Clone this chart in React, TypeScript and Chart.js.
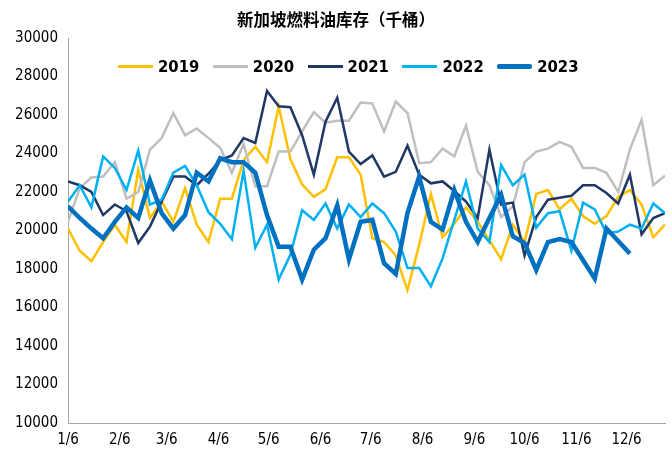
import React, { useEffect, useRef } from "react";
import { Chart, registerables } from "chart.js";

Chart.register(...registerables);

const title = "新加坡燃料油库存（千桶）";
const years = ["2019", "2020", "2021", "2022", "2023"];
const colors = ["#FFC000", "#BFBFBF", "#1F3864", "#00B0F0", "#0070C0"];
const widths = [2.5, 2.5, 2.5, 2.5, 4.5];

const tickLabels = ["1/6", "2/6", "3/6", "4/6", "5/6", "6/6", "7/6", "8/6", "9/6", "10/6", "11/6", "12/6"];
const yTicksMin = 10000;
const yTicksMax = 30000;
const yTicksStep = 2000;

const s2019 = [20100, 18950, 18400, 19400, 20300, 19400, 23150, 20650, 21500, 20450, 22200, 20300, 19400, 21650, 21650, 23650, 24350, 23550, 26450, 23700, 22400, 21750, 22150, 23800, 23800, 22900, 19600, 19400, 18700, 16900, 19250, 21900, 19650, 20350, 21200, 20450, 19500, 18500, 20300, 19400, 21900, 22100, 21100, 21650, 20750, 20350, 20750, 21750, 22100, 21350, 19650, 20300];
const s2020 = [20450, 22200, 22750, 22800, 23550, 21650, 22000, 24200, 24800, 26100, 24950, 25300, 24800, 24300, 23000, 24500, 22300, 22300, 24100, 24100, 25150, 26150, 25600, 25700, 25700, 26650, 26600, 25150, 26700, 26100, 23500, 23550, 24250, 23850, 25450, 23050, 22350, 20700, 21250, 23550, 24100, 24250, 24600, 24350, 23250, 23250, 23000, 22000, 24200, 25750, 22350, 22850];
const s2021 = [22550, 22350, 22000, 20800, 21350, 21000, 19350, 20200, 21500, 22800, 22800, 22350, 22950, 23650, 23900, 24800, 24550, 27250, 26450, 26400, 24950, 22900, 25650, 26900, 24100, 23450, 23900, 22800, 23050, 24400, 22900, 22450, 22550, 22050, 21500, 20650, 24200, 21350, 21450, 18700, 20700, 21600, 21700, 21800, 22350, 22350, 21950, 21400, 22900, 19800, 20650, 20900];
const s2022 = [21500, 22350, 21200, 23850, 23250, 22100, 24150, 21350, 21600, 23000, 23350, 22350, 20950, 20350, 19550, 23100, 19100, 20300, 17450, 18750, 21050, 20550, 21400, 20100, 21350, 20700, 21400, 20900, 19950, 18050, 18050, 17100, 18550, 20550, 22550, 20100, 19400, 23400, 22350, 22900, 20150, 20900, 21000, 18950, 21450, 21100, 19850, 19950, 20300, 20100, 21400, 20900];
const s2023 = [21250, 20650, 20100, 19600, 20450, 21200, 20650, 22600, 20900, 20100, 20800, 23000, 22550, 23750, 23550, 23550, 23000, 20800, 19150, 19150, 17450, 19000, 19600, 21300, 18500, 20450, 20550, 18300, 17750, 20900, 22800, 20450, 20050, 22100, 20450, 19400, 20650, 21850, 19700, 19350, 17950, 19400, 19550, 19400, 18450, 17500, 20100, 19450, 18800];
const seriesValues = [s2019, s2020, s2021, s2022, s2023];

// day of year (0-based) for a month/day
function dayOfYear(month: number, day: number): number {
  const d = new Date(2023, month, day);
  const start = new Date(2023, 0, 1);
  return Math.round((d.getTime() - start.getTime()) / 86400000);
}
// weekly observation dates, starting 1/6
function weekDay(i: number): number {
  return dayOfYear(0, 6 + 7 * i);
}
const tickDays = tickLabels.map((t) => {
  const [m, d] = t.split("/").map(Number);
  return dayOfYear(m - 1, d);
});

const narrow = "'Liberation Sans Narrow', 'Arial Narrow', 'DejaVu Sans Condensed', sans-serif";

export default function App() {
  const ref = useRef<HTMLCanvasElement | null>(null);
  useEffect(() => {
    if (!ref.current) return;
    const maxLen = Math.max(...seriesValues.map((s) => s.length));
    const chart = new Chart(ref.current, {
      type: "line",
      data: {
        datasets: years.map((y, k) => ({
          label: y,
          data: seriesValues[k].map((v, i) => ({ x: weekDay(i), y: v })),
          borderColor: colors[k],
          backgroundColor: colors[k],
          borderWidth: widths[k],
          pointRadius: 0,
          tension: 0,
          fill: false,
          order: 5 - k,
          borderJoinStyle: "miter" as const,
        })),
      },
      options: {
        animation: false,
        responsive: false,
        layout: { padding: { top: 38, right: 7, left: 0, bottom: 0 } },
        plugins: { legend: { display: false }, title: { display: false }, tooltip: { enabled: false } },
        scales: {
          x: {
            type: "linear",
            min: weekDay(0),
            max: weekDay(maxLen - 1),
            grid: { display: false, drawTicks: false },
            border: { display: true, color: "#A6A6A6", width: 1 },
            afterBuildTicks: (axis: any) => {
              axis.ticks = tickDays.map((v) => ({ value: v }));
            },
            afterFit: (scale: any) => {
              scale.height = 31;
            },
            ticks: {
              autoSkip: false,
              maxRotation: 0,
              padding: 8,
              color: "#000",
              font: { family: narrow, size: 15 },
              callback: (_v: any, i: number) => tickLabels[i],
            },
          },
          y: {
            min: yTicksMin,
            max: yTicksMax,
            grid: { display: false, drawTicks: false },
            border: { display: true, color: "#A6A6A6", width: 1 },
            afterFit: (scale: any) => {
              scale.width = 68;
            },
            ticks: {
              stepSize: yTicksStep,
              padding: 10,
              color: "#000",
              font: { family: narrow, size: 15 },
              callback: (v: any) => String(v),
            },
          },
        },
      },
    });
    return () => chart.destroy();
  }, []);

  return (
    <div style={{ position: "fixed", left: 0, top: 0, width: 672, height: 454, background: "#fff" }}>
      <canvas ref={ref} width={672} height={454} style={{ position: "absolute", left: 0, top: 0 }} />
      <div
        style={{
          position: "absolute",
          left: 0,
          width: 672,
          top: 7,
          textAlign: "center",
          fontFamily: "'Noto Sans CJK SC', sans-serif",
          fontWeight: 700,
          fontSize: 16.5,
          lineHeight: "24px",
          color: "#000",
        }}
      >
        <span>{title}</span>
      </div>
      {years.map((y, k) => (
        <div
          key={y}
          style={{
            position: "absolute",
            left: 118 + k * 94.8,
            top: 54,
            height: 24,
            display: "flex",
            alignItems: "center",
          }}
        >
          <div
            style={{
              width: 35,
              height: k === 4 ? 5 : 3,
              borderRadius: k === 4 ? 2 : 0,
              background: colors[k],
              marginRight: 5,
            }}
          />
          <span style={{ fontFamily: narrow, fontWeight: 700, fontSize: 16.5, color: "#000" }}>{y}</span>
        </div>
      ))}
    </div>
  );
}
